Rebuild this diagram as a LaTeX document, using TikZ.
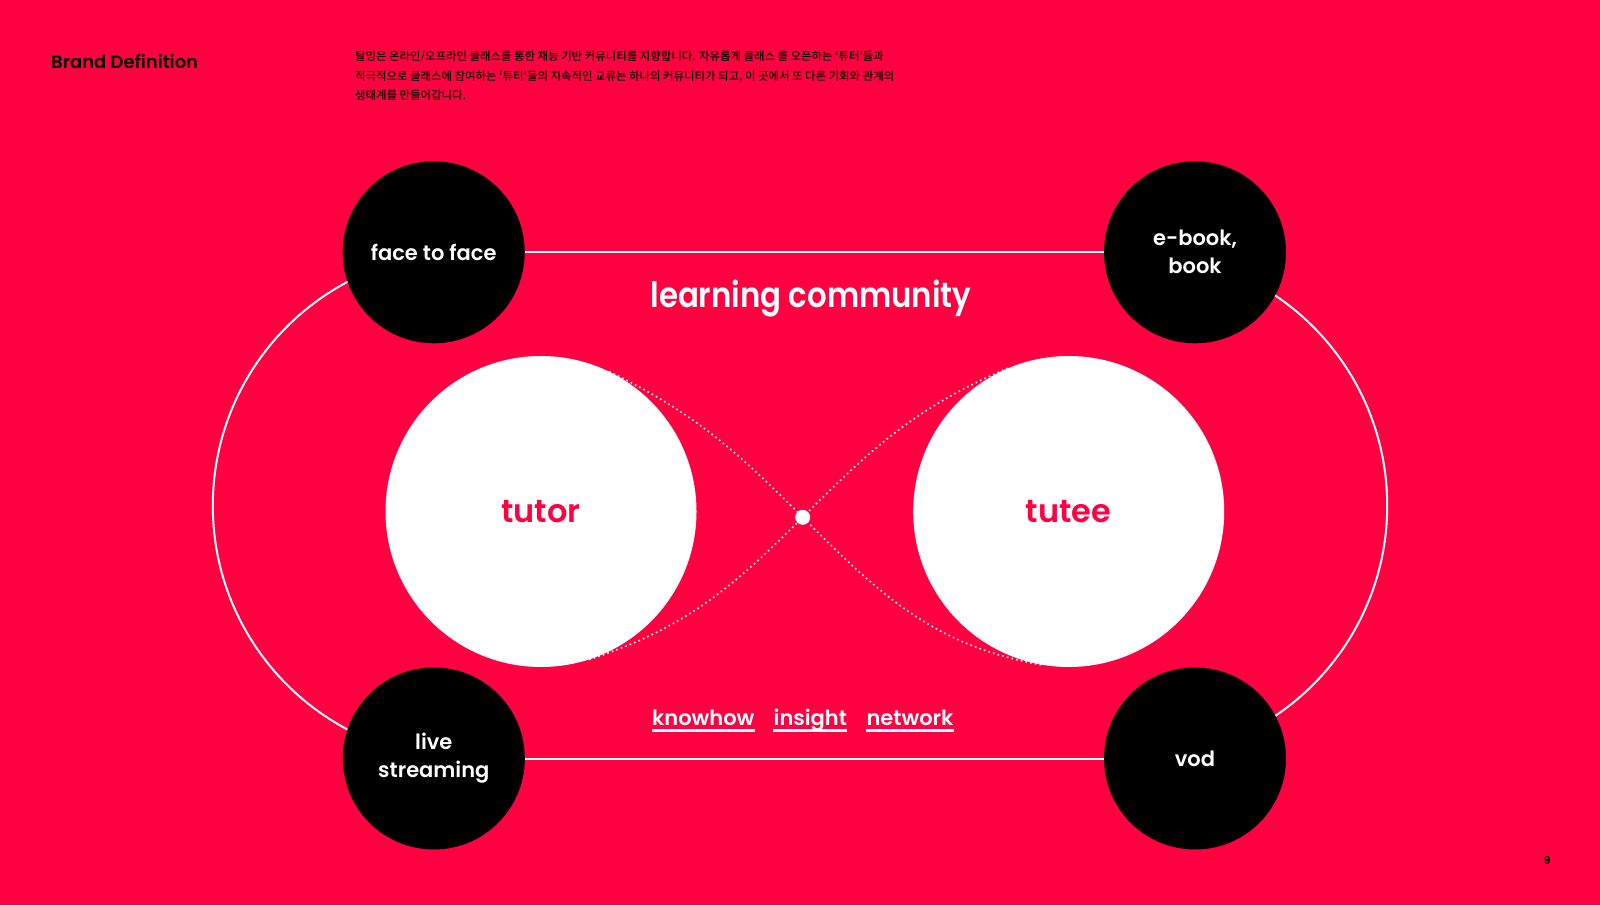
\documentclass[tikz,border=0pt]{standalone}
\usepackage{fontspec}
\setmainfont{Poppins}
\newfontfamily\demi{Poppins SemiBold}
\newfontfamily\demiw{Poppins SemiBold}[FakeStretch=0.88]
\newfontfamily\krfont{Noto Sans CJK KR Medium}
\usetikzlibrary{backgrounds}

\definecolor{rojo}{RGB}{255,0,64}

\tikzset{
  medio/.style={circle,fill=black,text=white,minimum size=182pt,inner sep=0pt,align=center,font=\demi\fontsize{21}{28}\selectfont},
  grande/.style={circle,fill=white,text=rojo,minimum size=311pt,inner sep=0pt,font=\demi\fontsize{32}{32}\selectfont},
  linea/.style={white,line width=2pt},
  puntos/.style={white,line width=1.6pt,dash pattern=on 1.6pt off 3.2pt},
  palabra/.style={anchor=base,inner sep=0pt,text=white,font=\demi\fontsize{21}{21}\selectfont},
}

\begin{document}
\begin{tikzpicture}[x=1pt,y=1pt]
\useasboundingbox (0,0) rectangle (1600,905);

%titulo y texto de arriba
\node[anchor=base west,inner sep=0pt,font=\demi\fontsize{18}{18}\selectfont] (marca) at (51,836) {Brand Definition};
\node[anchor=north west,inner sep=0pt,align=left,font=\krfont\fontsize{11.4}{19.5}\selectfont] (texto) at (355,854) {탈잉은 온라인/오프라인 클래스를 통한 재능 기반 커뮤니티를 지향합니다. 자유롭게 클래스 를 오픈하는 ‘튜터’들과\\적극적으로 클래스에 참여하는 ‘튜티’들의 지속적인 교류는 하나의 커뮤니티가 되고, 이 곳에서 또 다른 기회와 관계의\\생태계를 만들어갑니다.};

%circulos negros
\node[medio] (ftf) at (433.7,652.7) {face to face};
\node[medio] (ebook) at (1195,652.7) {e-book,\\book};
\node[medio] (live) at (433.8,146.5) {live\\streaming};
\node[medio] (vod) at (1195,146.5) {vod};

%circulos blancos
\node[grande] (tutor) at (541,393.5) {tutor};
\node[grande] (tutee) at (1068.7,393.5) {tutee};
\node[circle,fill=white,minimum size=15pt,inner sep=0pt] (hub) at (802.7,387.7) {};

\node[anchor=base,inner sep=0pt,text=white,font=\demiw\fontsize{35}{35}\selectfont] (comunidad) at (811,597.3) {learning community};

%palabras subrayadas
\node[palabra] (kh) at (703.3,179.3) {knowhow};
\node[palabra] (ins) at (810.3,179.3) {insight};
\node[palabra] (net) at (910,179.3) {network};
\foreach \p in {kh,ins,net}
	\draw[white,line width=2.5pt] ([yshift=-4.6pt]\p.base west) -- ([yshift=-4.6pt]\p.base east);

\node[font=\demi\fontsize{11}{11}\selectfont] (pag) at (1547,44.5) {9};

\begin{scope}[on background layer]
\fill[rojo] (0,0) rectangle (1600,905);
%la pista de afuera
\draw[linea] (466,652.5) arc[start angle=90,end angle=270,radius=253.2pt];
\draw[linea] (1134,146.1) arc[start angle=-90,end angle=90,radius=253.2pt];
\draw[linea] (ftf) -- (ebook);
\draw[linea] (live) -- (vod);
%lineas punteadas
\draw[puntos] (tutor.64) to[out=-26,in=135] (hub.center) to[out=-45,in=170] (tutee.-100);
\draw[puntos] (tutor.-72) to[out=18,in=-135] (hub.center) to[out=45,in=-157] (tutee.113);
\end{scope}
\end{tikzpicture}
\end{document}
